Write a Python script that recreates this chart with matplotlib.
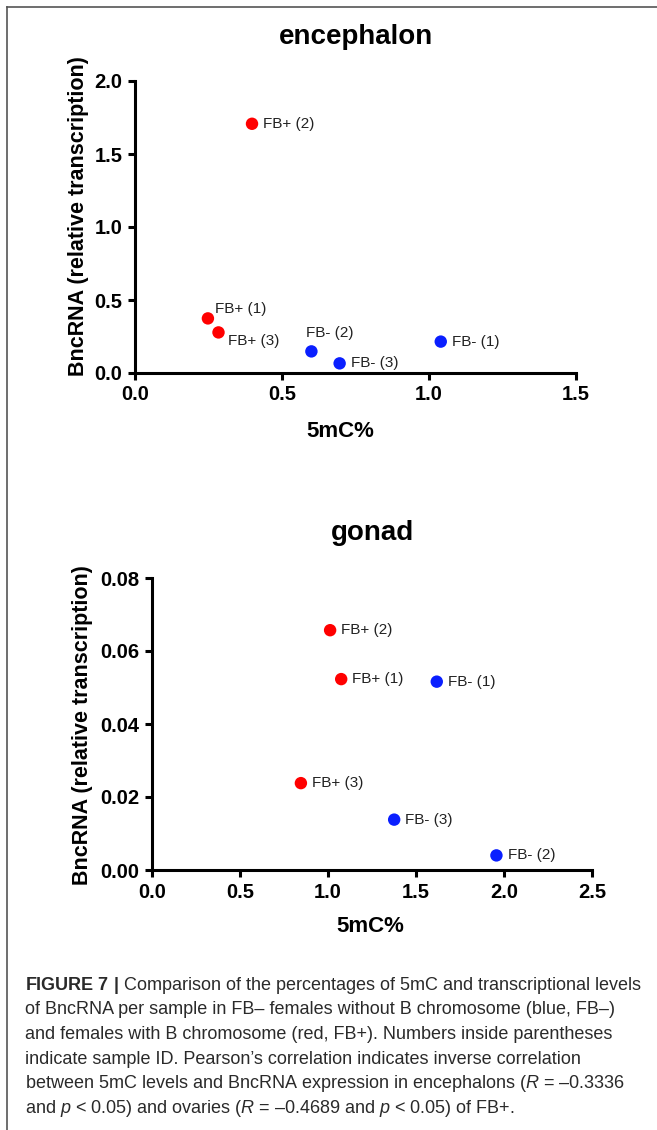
import matplotlib
matplotlib.use("Agg")
import matplotlib.pyplot as plt
from matplotlib.lines import Line2D

plt.rcParams['font.family'] = ['Liberation Sans', 'DejaVu Sans']
plt.rcParams['mathtext.fontset'] = 'custom'
plt.rcParams['mathtext.rm'] = 'Liberation Sans'
plt.rcParams['mathtext.it'] = 'Liberation Sans:italic'
plt.rcParams['mathtext.bf'] = 'Liberation Sans:bold'

# encephalon: 5mC% vs BncRNA relative transcription
enc_labels = ['FB+ (1)', 'FB+ (2)', 'FB+ (3)', 'FB- (1)', 'FB- (2)', 'FB- (3)']
enc_x = [0.248, 0.398, 0.284, 1.040, 0.600, 0.696]
enc_y = [0.374, 1.707, 0.278, 0.215, 0.148, 0.066]
enc_group = ['FB+', 'FB+', 'FB+', 'FB-', 'FB-', 'FB-']

# gonad
gon_labels = ['FB+ (1)', 'FB+ (2)', 'FB+ (3)', 'FB- (1)', 'FB- (2)', 'FB- (3)']
gon_x = [1.075, 1.012, 0.846, 1.618, 1.957, 1.376]
gon_y = [0.0523, 0.0657, 0.0238, 0.0516, 0.0040, 0.0138]
gon_group = ['FB+', 'FB+', 'FB+', 'FB-', 'FB-', 'FB-']

colors = {'FB+': '#ff0000', 'FB-': '#0a1fff'}

# label offsets in points (dx, dy, ha, va)
enc_offsets = {'FB+ (1)': (5, 6.5, 'left', 'center'),
               'FB+ (2)': (8, 0, 'left', 'center'),
               'FB+ (3)': (7, -6, 'left', 'center'),
               'FB- (1)': (8, 0, 'left', 'center'),
               'FB- (2)': (-4, 8, 'left', 'bottom'),
               'FB- (3)': (8, 0, 'left', 'center')}

fig = plt.figure(figsize=(6.57, 11.30), dpi=100)

# frame lines (top and left edges of the page box)
fig.add_artist(Line2D([7 / 657, 7 / 657], [0, 1 - 7 / 1130], color='#555555', lw=1.2))
fig.add_artist(Line2D([7 / 657, 1], [1 - 7 / 1130, 1 - 7 / 1130], color='#555555', lw=1.2))


def style_axes(ax):
    for s in ['top', 'right']:
        ax.spines[s].set_visible(False)
    for s in ['left', 'bottom']:
        ax.spines[s].set_linewidth(2.2)
    ax.tick_params(direction='out', length=5, width=2.2, labelsize=14.5, pad=4)
    for lab in ax.get_xticklabels() + ax.get_yticklabels():
        lab.set_fontweight('bold')


ax1 = fig.add_axes([135 / 657, 1 - 373 / 1130, 441 / 657, 292 / 1130])
for lab, x, y, g in zip(enc_labels, enc_x, enc_y, enc_group):
    ax1.scatter(x, y, s=80, color=colors[g], edgecolors='none', zorder=3, clip_on=False)
    dx, dy, ha, va = enc_offsets[lab]
    ax1.annotate(lab, (x, y), xytext=(dx, dy), textcoords='offset points',
                 ha=ha, va=va, fontsize=11, color='#222222')
ax1.set_xlim(0, 1.5)
ax1.set_ylim(0, 2.0)
ax1.set_xticks([0, 0.5, 1.0, 1.5])
ax1.set_xticklabels(['0.0', '0.5', '1.0', '1.5'])
ax1.set_yticks([0, 0.5, 1.0, 1.5, 2.0])
ax1.set_yticklabels(['0.0', '0.5', '1.0', '1.5', '2.0'])
style_axes(ax1)
ax1.set_xlabel('5mC%', fontsize=16, fontweight='bold')
ax1.xaxis.set_label_coords(0.465, -0.202)
ax1.xaxis.label.set_va('center')
ax1.set_ylabel('BncRNA (relative transcription)', fontsize=15.5, fontweight='bold')
ax1.yaxis.set_label_coords(-0.129, 0.538)
ax1.yaxis.label.set_va('center')
ax1.text(0.5, 1.15, 'encephalon', transform=ax1.transAxes, ha='center', va='center',
         fontsize=20, fontweight='bold')

ax2 = fig.add_axes([152 / 657, 1 - 870 / 1130, 440 / 657, 292 / 1130])
for lab, x, y, g in zip(gon_labels, gon_x, gon_y, gon_group):
    ax2.scatter(x, y, s=80, color=colors[g], edgecolors='none', zorder=3, clip_on=False)
    ax2.annotate(lab, (x, y), xytext=(8, 0), textcoords='offset points',
                 ha='left', va='center', fontsize=11, color='#222222')
ax2.set_xlim(0, 2.5)
ax2.set_ylim(0, 0.08)
ax2.set_xticks([0, 0.5, 1.0, 1.5, 2.0, 2.5])
ax2.set_xticklabels(['0.0', '0.5', '1.0', '1.5', '2.0', '2.5'])
ax2.set_yticks([0, 0.02, 0.04, 0.06, 0.08])
ax2.set_yticklabels(['0.00', '0.02', '0.04', '0.06', '0.08'])
style_axes(ax2)
ax2.set_xlabel('5mC%', fontsize=16, fontweight='bold')
ax2.xaxis.set_label_coords(0.495, -0.195)
ax2.xaxis.label.set_va('center')
ax2.set_ylabel('BncRNA (relative transcription)', fontsize=15.5, fontweight='bold')
ax2.yaxis.set_label_coords(-0.159, 0.497)
ax2.yaxis.label.set_va('center')
ax2.text(0.5, 1.154, 'gonad', transform=ax2.transAxes, ha='center', va='center',
         fontsize=20, fontweight='bold')

caption = [
    r'$\mathbf{FIGURE\ 7\ |}$ Comparison of the percentages of 5mC and transcriptional levels',
    'of BncRNA per sample in FB\u2013 females without B chromosome (blue, FB\u2013)',
    'and females with B chromosome (red, FB+). Numbers inside parentheses',
    'indicate sample ID. Pearson\u2019s correlation indicates inverse correlation',
    r'between 5mC levels and BncRNA expression in encephalons ($\mathit{R}$ = \u20130.3336',
    r'and $\mathit{p}$ < 0.05) and ovaries ($\mathit{R}$ = \u20130.4689 and $\mathit{p}$ < 0.05) of FB+.',
]
for i, line in enumerate(caption):
    line = line.replace('\\u2013', '\u2013')
    fig.text(25 / 657, 1 - (985 + i * 24.7) / 1130, line, ha='left', va='center',
             fontsize=13, color='#2a2a2a')

fig.savefig('out.png', dpi=100)
